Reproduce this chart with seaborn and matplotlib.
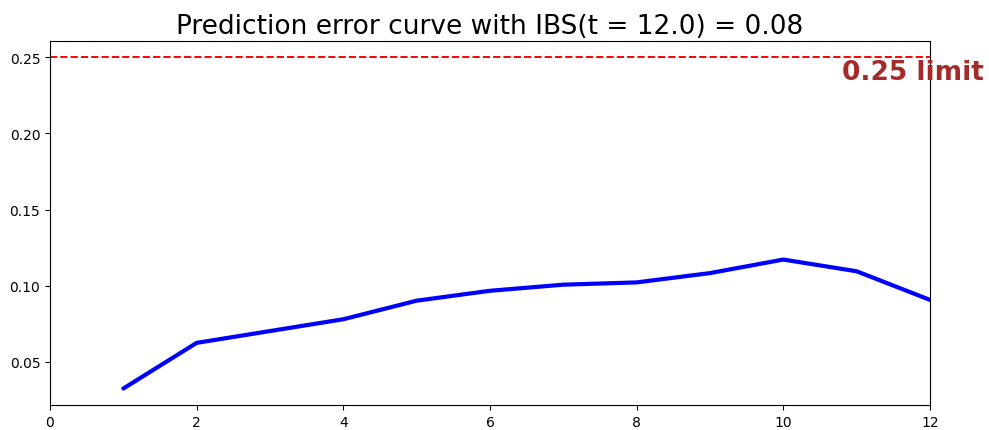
import matplotlib
matplotlib.use("Agg")
import matplotlib.pyplot as plt
import seaborn as sns
import pandas as pd

times = [1, 2, 4, 5, 6, 7, 8, 9, 10, 11, 12]
errors = [0.0325, 0.0625, 0.0780, 0.0902, 0.0967, 0.1007, 0.1022, 0.1083, 0.1172, 0.1095, 0.0907]
limit = 0.25
title = "Prediction error curve with IBS(t = 12.0) = 0.08"

df = pd.DataFrame({"time": times, "error": errors})

sns.set_style("ticks")
plt.rcParams['font.family'] = ['DejaVu Sans']
plt.rcParams['text.color'] = 'black'

fig = plt.figure(figsize=(9.89, 4.31), dpi=100)
ax = fig.add_axes([50/989, 1 - 406/431, 880/989, 364/431])

sns.lineplot(data=df, x="time", y="error", color="blue", linewidth=3, ax=ax)
ax.axhline(limit, color="red", linestyle="--", linewidth=1.4)
ax.text(10.8, limit - 0.001, "0.25 limit", color="#A52A2A", fontsize=19,
        fontweight="bold", va="top", ha="left", clip_on=False)

ax.set_xlim(0, 12)
ax.set_ylim(0.0217, 0.2607)
ax.set_xticks([0, 2, 4, 6, 8, 10, 12])
ax.set_yticks([0.05, 0.10, 0.15, 0.20, 0.25])
ax.set_xlabel("")
ax.set_ylabel("")
ax.set_title(title, fontsize=19, color="black")
for s in ax.spines.values():
    s.set_visible(True)
    s.set_color("black")
    s.set_linewidth(0.8)
ax.tick_params(labelsize=10, colors="black")

fig.savefig("out.png", dpi=100)
